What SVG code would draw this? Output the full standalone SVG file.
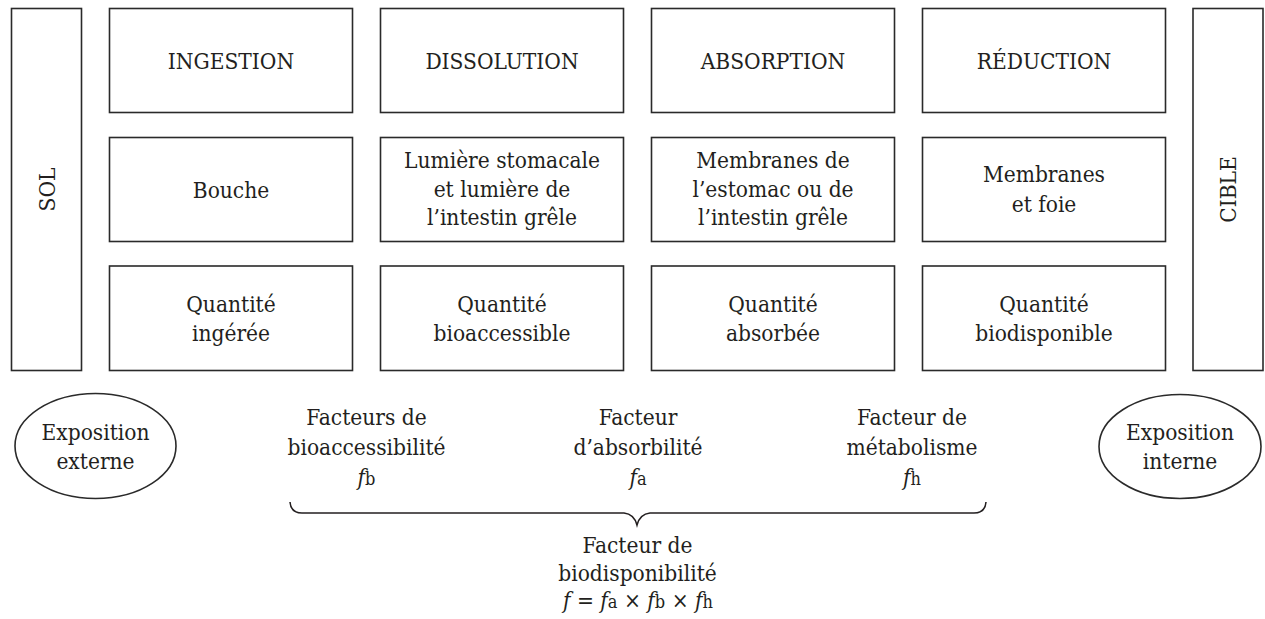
<svg xmlns="http://www.w3.org/2000/svg" width="1265" height="619" viewBox="0 0 1265 619">
<style>
.b{fill:#fff;stroke:#2a2a2a;stroke-width:1.6}
.t{font-family:"DejaVu Serif Condensed","DejaVu Serif",serif;font-stretch:condensed;font-size:22.5px;fill:#231f20;text-anchor:middle}
.i{font-style:italic}
.s{font-size:18px}
</style>
<rect width="1265" height="619" fill="#fff"/>
<g id="sol"><rect class="b" x="11.5" y="8.5" width="70" height="362"/><text class="t" transform="translate(54.5,189.5) rotate(-90)">SOL</text></g>
<g id="cible"><rect class="b" x="1193" y="8.5" width="70" height="362"/><text class="t" transform="translate(1236,189.5) rotate(-90)">CIBLE</text></g>

<g id="ingestion"><rect class="b" x="109.5" y="8.5" width="243" height="104"/><text class="t" x="231" y="69">INGESTION</text></g>
<g id="dissolution"><rect class="b" x="380.5" y="8.5" width="243" height="104"/><text class="t" x="502" y="69">DISSOLUTION</text></g>
<g id="absorption"><rect class="b" x="651.5" y="8.5" width="243" height="104"/><text class="t" x="773" y="69">ABSORPTION</text></g>
<g id="reduction"><rect class="b" x="922.5" y="8.5" width="243" height="104"/><text class="t" x="1044" y="69">RÉDUCTION</text></g>

<g id="bouche"><rect class="b" x="109.5" y="137.5" width="243" height="104"/><text class="t" x="231" y="198">Bouche</text></g>
<g id="lumiere"><rect class="b" x="380.5" y="137.5" width="243" height="104"/><text class="t" x="502" y="168">Lumière stomacale</text><text class="t" x="502" y="196.5">et lumière de</text><text class="t" x="502" y="225">l’intestin grêle</text></g>
<g id="membranes-estomac"><rect class="b" x="651.5" y="137.5" width="243" height="104"/><text class="t" x="773" y="168">Membranes de</text><text class="t" x="773" y="196.5">l’estomac ou de</text><text class="t" x="773" y="225">l’intestin grêle</text></g>
<g id="membranes-foie"><rect class="b" x="922.5" y="137.5" width="243" height="104"/><text class="t" x="1044" y="182">Membranes</text><text class="t" x="1044" y="211.5">et foie</text></g>

<g id="q-ingeree"><rect class="b" x="109.5" y="266" width="243" height="104.5"/><text class="t" x="231" y="311.5">Quantité</text><text class="t" x="231" y="340.5">ingérée</text></g>
<g id="q-bioaccessible"><rect class="b" x="380.5" y="266" width="243" height="104.5"/><text class="t" x="502" y="311.5">Quantité</text><text class="t" x="502" y="340.5">bioaccessible</text></g>
<g id="q-absorbee"><rect class="b" x="651.5" y="266" width="243" height="104.5"/><text class="t" x="773" y="311.5">Quantité</text><text class="t" x="773" y="340.5">absorbée</text></g>
<g id="q-biodisponible"><rect class="b" x="922.5" y="266" width="243" height="104.5"/><text class="t" x="1044" y="311.5">Quantité</text><text class="t" x="1044" y="340.5">biodisponible</text></g>

<g id="expo-externe"><ellipse class="b" cx="95.5" cy="446" rx="80.5" ry="52.5"/><text class="t" x="95.5" y="440">Exposition</text><text class="t" x="95.5" y="469">externe</text></g>
<g id="expo-interne"><ellipse class="b" cx="1180" cy="446.5" rx="81" ry="52"/><text class="t" x="1180" y="440">Exposition</text><text class="t" x="1180" y="469">interne</text></g>

<g id="f-bioaccessibilite"><text class="t" x="366.5" y="425">Facteurs de</text><text class="t" x="366.5" y="455">bioaccessibilité</text><text class="t" x="366.5" y="485"><tspan class="i">f</tspan><tspan class="s">b</tspan></text></g>
<g id="f-absorbilite"><text class="t" x="638" y="425">Facteur</text><text class="t" x="638" y="455">d’absorbilité</text><text class="t" x="638" y="485"><tspan class="i">f</tspan><tspan class="s">a</tspan></text></g>
<g id="f-metabolisme"><text class="t" x="912" y="425">Facteur de</text><text class="t" x="912" y="455">métabolisme</text><text class="t" x="912" y="485"><tspan class="i">f</tspan><tspan class="s">h</tspan></text></g>

<g id="connectors"><path d="M290,502 Q291,513 302,513 L624,513 Q634,514 637,525 Q640,514 650,513 L974,513 Q985,513 986,502" fill="none" stroke="#231f20" stroke-width="1.6"/></g>

<g id="f-biodisponibilite"><text class="t" x="637.5" y="552.5">Facteur de</text><text class="t" x="637.5" y="580.5">biodisponibilité</text><text class="t" x="638" y="608"><tspan class="i">f</tspan> = <tspan class="i">f</tspan><tspan class="s">a</tspan> × <tspan class="i">f</tspan><tspan class="s">b</tspan> × <tspan class="i">f</tspan><tspan class="s">h</tspan></text></g>
</svg>
